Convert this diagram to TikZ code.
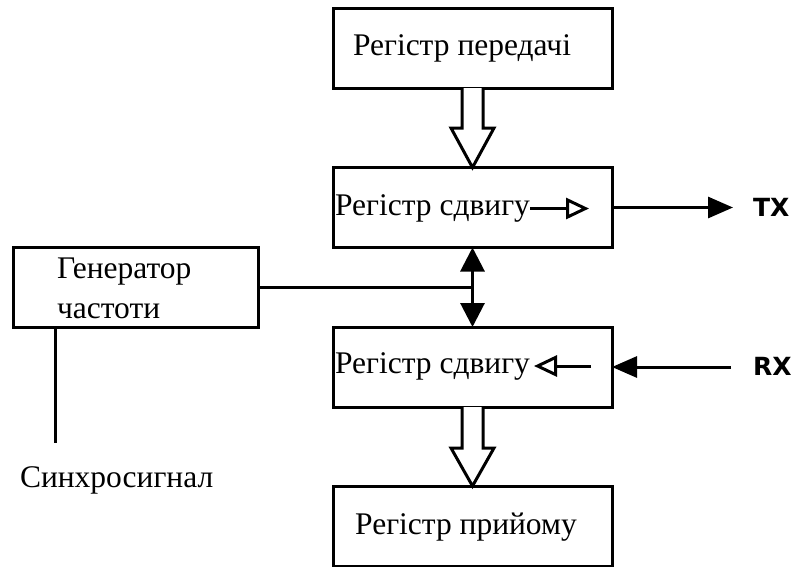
\documentclass[tikz,border=0pt]{standalone}
\usepackage{fontspec}
\setmainfont{Liberation Serif}
\newfontfamily\signalfont{DejaVu Sans}
\usetikzlibrary{arrows.meta,calc}
\begin{document}
\begin{tikzpicture}[x=1pt,y=-1pt,
  wire/.style={line width=3pt},
  block/.style={draw, wire, rectangle, inner sep=0pt, outer sep=0pt,
    minimum width=279pt, minimum height=80pt},
  txt/.style={inner sep=0pt, outer sep=0pt, font=\fontsize{31.5}{34}\selectfont},
  sig/.style={inner sep=0pt, outer sep=0pt, font=\signalfont\bfseries\fontsize{25}{28}\selectfont},
  hollow/.style={draw, wire, fill=white, line join=miter},
  solidtip/.style={-{Triangle[length=25pt,width=21pt]}},
  opentip/.style={-{Triangle[open,length=23pt,width=21pt]}},
]
\useasboundingbox (0,0) rectangle (792,566);

% blocks
\node[block] (txreg) at (472.5,48) {};
\node[block] (sh1) at (472.5,207.5) {};
\node[block] (sh2) at (472.5,367) {};
\node[block] (rxreg) at (472.5,526) {};
\node[block, minimum width=245pt] (gen) at (135.5,287) {};

% block labels
\node[txt] (txregl) at (462,48) {Регістр передачі};
\node[txt, anchor=west] (sh1l) at (335,208) {Регістр сдвигу};
\node[txt, anchor=west] (sh2l) at (335,366) {Регістр сдвигу};
\node[txt] (rxregl) at (466,527) {Регістр прийому};
\node[txt, anchor=west] (genl1) at (57,272) {Генератор};
\node[txt, anchor=west] (genl2) at (57,311) {частоти};
\node[txt, anchor=west] (syncl) at (20,480) {Синхросигнал};

% signal names
\node[sig, anchor=west] (txl) at (753,207) {TX};
\node[sig, anchor=west] (rxl) at (753,366) {RX};

% parallel transfers
\draw[hollow] ($(txreg.south)+(-10.5,0)$) -- ($(txreg.south)+(-10.5,40)$)
  -- ($(txreg.south)+(-21.5,40)$) -- (sh1.north) -- ($(txreg.south)+(21.5,40)$)
  -- ($(txreg.south)+(10.5,40)$) -- ($(txreg.south)+(10.5,0)$);
\draw[hollow] ($(sh2.south)+(-10.5,0)$) -- ($(sh2.south)+(-10.5,41)$)
  -- ($(sh2.south)+(-21.5,41)$) -- (rxreg.north) -- ($(sh2.south)+(21.5,41)$)
  -- ($(sh2.south)+(10.5,41)$) -- ($(sh2.south)+(10.5,0)$);

% serial direction inside the shift registers
\coordinate (s1a) at (530,208.5);
\coordinate (s1b) at (589,208.5);
\coordinate (s2a) at (591,366);
\coordinate (s2b) at (534,366);
\draw[wire, opentip] (s1a) -- (s1b);
\draw[wire, opentip] (s2a) -- (s2b);

% serial lines
\coordinate (txend) at (733,207.5);
\coordinate (rxstart) at (731,367);
\draw[wire, solidtip] (sh1.east) -- (txend);
\draw[wire, solidtip] (rxstart) -- (sh2.east);

% clock distribution
\draw[wire, {Triangle[length=24pt,width=24pt]}-{Triangle[length=24pt,width=24pt]}]
  (sh1.south) -- (sh2.north);
\draw[wire] (gen.east) -- (gen.east -| sh1.south);
\coordinate (syncend) at (55,443);
\draw[wire] (gen.south -| syncend) -- (syncend);
\end{tikzpicture}
\end{document}
